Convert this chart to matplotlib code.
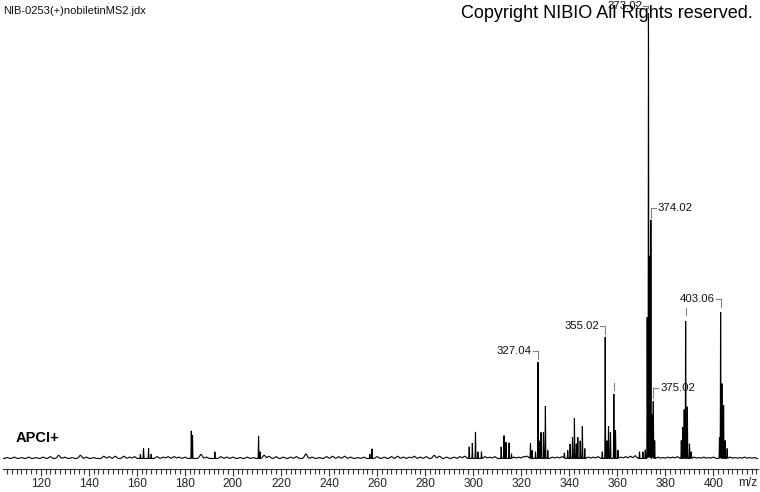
import numpy as np
import matplotlib
matplotlib.use("Agg")
import matplotlib.pyplot as plt
from matplotlib.transforms import ScaledTranslation

plt.rcParams['font.family'] = ['Liberation Sans', 'DejaVu Sans']

# ---- data ----
# main peaks: m/z and relative intensity (%)
peak_mz = [162.8, 164.9, 161.5, 166.0, 182.7, 183.2, 192.5, 210.7, 211.3, 257.0, 257.9,
           298.4, 299.7, 301.0, 302.0, 303.5,
           311.7, 312.9, 313.7, 315.0, 316.0,
           323.9, 324.6, 326.0, 327.04, 327.8, 328.3, 329.3, 330.1, 331.1,
           338.0, 339.4, 340.4, 341.4, 342.2, 343.0, 343.6, 344.6, 345.5, 346.5,
           353.8, 355.02, 355.8, 356.4, 357.2, 358.6, 359.3, 360.3,
           369.3, 370.7, 371.7, 372.5, 373.02, 373.5, 374.02, 374.6, 375.02, 375.6,
           386.7, 387.4, 387.9, 388.5, 389.2, 390.1, 390.8,
           402.6, 403.06, 403.6, 404.3, 405.0, 405.8]
peak_int = [2.3, 2.3, 1.0, 1.0, 6.3, 5.2, 1.5, 4.9, 1.5, 1.0, 2.2,
            2.6, 3.4, 6.0, 1.5, 1.5,
            2.6, 5.1, 3.6, 3.5, 1.0,
            3.4, 1.8, 1.5, 21.4, 4.0, 5.8, 6.0, 12.0, 1.8,
            1.2, 1.8, 3.3, 4.7, 9.0, 3.3, 4.7, 4.0, 7.3, 2.2,
            1.5, 27.0, 4.0, 7.3, 5.9, 14.7, 6.4, 1.8,
            1.5, 1.5, 2.0, 32.0, 100.0, 45.0, 53.0, 10.0, 13.0, 4.0,
            4.0, 7.0, 11.0, 31.4, 11.8, 3.3, 1.5,
            4.7, 33.0, 16.7, 11.8, 4.0, 2.2]

# baseline noise bumps: m/z and relative intensity (%)
noise_mz = [106, 109, 112, 115, 118, 121, 124, 127.5, 130, 133, 136.5, 139, 142, 146.3,
            148.5, 151, 154.6, 157, 159, 168.5, 171, 173, 175.5, 177.5, 180, 186.7,
            189, 195, 197.5, 200, 203, 206, 208.5, 213, 215, 218, 221, 224, 226.5, 230.4,
            233, 236, 239, 241.5, 244, 246.5, 249, 252, 254.5, 260, 263, 266, 268.6, 271,
            273.5, 275.5, 278, 280.5, 283.8, 286, 289, 292, 294.5, 296.5, 305, 307, 309,
            317, 319, 321, 322.5, 333, 335, 337, 348, 350, 352, 361.5, 363.5, 365.5, 367.5,
            377, 379, 381, 383, 385, 392, 394, 396, 398, 400, 407, 409, 411, 413, 415, 417]
noise_int = [0.2, 0.3, 0.2, 0.3, 0.2, 0.3, 0.4, 0.7, 0.3, 0.2, 0.7, 0.3, 0.2, 0.5,
             0.4, 0.5, 0.5, 0.3, 0.4, 0.4, 0.3, 0.4, 0.4, 0.3, 0.3, 0.9,
             0.3, 0.4, 0.3, 0.3, 0.2, 0.3, 0.2, 0.7, 0.5, 0.4, 0.3, 0.3, 0.4, 1.0,
             0.3, 0.2, 0.4, 0.5, 0.4, 0.5, 0.3, 0.2, 0.3, 0.4, 0.3, 0.4, 0.5, 0.3,
             0.3, 0.5, 0.3, 0.4, 0.7, 0.5, 0.3, 0.3, 0.4, 0.5, 0.4, 0.3, 0.4,
             0.3, 0.3, 0.4, 0.5, 0.3, 0.3, 0.4, 0.3, 0.3, 0.4, 0.3, 0.4, 0.5, 0.6,
             0.3, 0.2, 0.3, 0.3, 0.4, 0.3, 0.2, 0.3, 0.2, 0.3, 0.3, 0.2, 0.2, 0.3, 0.2, 0.2]

# labelled peaks
label_mz = [327.04, 355.02, 373.02, 374.02, 375.02, 403.06]
label_int = [21.4, 27.0, 100.0, 53.0, 13.0, 33.0]
label_side = ['left', 'left', 'left', 'right', 'right', 'left']

# suppressed-label leader marks (m/z, intensity)
mark_mz = [358.6, 388.5]
mark_int = [14.7, 31.4]

tick_major = list(range(120, 401, 20))

# ---- figure ----
W, H, DPI = 760, 492, 100
fig = plt.figure(figsize=(W / DPI, H / DPI), dpi=DPI)
fig.patch.set_facecolor('white')

x_left_px, x_right_px = 3, 758
y_top_px, y_axis_px = 5, 469
ax = fig.add_axes([x_left_px / W, (H - y_axis_px) / H,
                   (x_right_px - x_left_px) / W, (y_axis_px - y_top_px) / H])

px_per_unit = 2.402
x120 = 40.7
xmin = 120 - (x120 - x_left_px) / px_per_unit
xmax = 120 + (x_right_px - x120) / px_per_unit
base_px, top_px = 458.5, 8.0
px_per_pct = (base_px - top_px) / 100.0
ymin = -(y_axis_px - base_px) / px_per_pct
ymax = 100 + (top_px - y_top_px) / px_per_pct
ax.set_xlim(xmin, xmax)
ax.set_ylim(ymin, ymax)

# profile spectrum built from the peak lists
grid = np.linspace(xmin, xmax, 9000)
prof = np.zeros_like(grid)
for m, h in zip(peak_mz, peak_int):
    prof += h * np.exp(-0.5 * ((grid - m) / 0.07) ** 2)
for m, h in zip(noise_mz, noise_int):
    prof += h * np.exp(-0.5 * ((grid - m) / 0.55) ** 2)
ax.plot(grid, prof, color='black', lw=0.8, solid_joinstyle='miter')

gray = '#808080'


def offset_line(mz, h, pts, **kw):
    # pts: list of (dx, dy) pixel offsets relative to the data point
    for i in range(len(pts) - 1):
        (dx0, dy0), (dx1, dy1) = pts[i], pts[i + 1]
        t0 = ax.transData + ScaledTranslation(dx0 / DPI, dy0 / DPI, fig.dpi_scale_trans)
        t1 = ax.transData + ScaledTranslation(dx1 / DPI, dy1 / DPI, fig.dpi_scale_trans)
        p0 = t0.transform((mz, h))
        p1 = t1.transform((mz, h))
        fig.add_artist(plt.Line2D([p0[0] / W, p1[0] / W], [p0[1] / H, p1[1] / H],
                                  transform=fig.transFigure, color=gray, lw=0.8))


for m, h, side in zip(label_mz, label_int, label_side):
    if side == 'left':
        rise = 11 if h < 90 else 2
        offset_line(m, h, [(0, 3 if h < 90 else 0), (0, rise), (-5, rise)])
        tt = ax.transData + ScaledTranslation(-6 / DPI, rise / DPI, fig.dpi_scale_trans)
        ax.text(m, h, f"{m:.2f}", transform=tt, ha='right', va='center',
                fontsize=8.2, color='#111111', clip_on=False)
    else:
        rise = 12
        offset_line(m, h, [(0, 2), (0, rise), (5, rise)])
        tt = ax.transData + ScaledTranslation(7 / DPI, rise / DPI, fig.dpi_scale_trans)
        ax.text(m, h, f"{m:.2f}", transform=tt, ha='left', va='center',
                fontsize=8.2, color='#111111', clip_on=False)

for m, h in zip(mark_mz, mark_int):
    offset_line(m, h, [(0, 2), (0, 9)])

# axes styling
for s in ['top', 'right', 'left']:
    ax.spines[s].set_visible(False)
ax.spines['bottom'].set_color('#333333')
ax.spines['bottom'].set_linewidth(0.8)
ax.set_yticks([])
ax.set_xticks(tick_major)
ax.set_xticklabels([str(t) for t in tick_major])
ax.set_xticks(np.arange(106, 419, 2), minor=True)
ax.tick_params(axis='x', which='major', direction='out', length=5, width=0.8,
               color='#333333', labelsize=8.6, labelcolor='#222222', pad=1.5)
ax.tick_params(axis='x', which='minor', direction='out', length=3.5, width=0.8,
               color='#333333')
ax.patch.set_visible(False)

fig.text(748 / W, 1 - 483 / H, "m/z", ha='center', va='center', fontsize=8.6, color='#222222')
fig.text(3 / W, 1 - 11 / H, "NIB-0253(+)nobiletinMS2.jdx", ha='left', va='center',
         fontsize=8.0, color='#111111')
fig.text(753 / W, 1 - 14 / H, "Copyright NIBIO All Rights reserved.", ha='right',
         va='center', fontsize=13, color='black')
fig.text(16 / W, 1 - 438 / H, "APCI+", ha='left', va='center', fontsize=10.5,
         fontweight='bold', color='black')

fig.savefig("out.png", dpi=DPI, facecolor='white')
